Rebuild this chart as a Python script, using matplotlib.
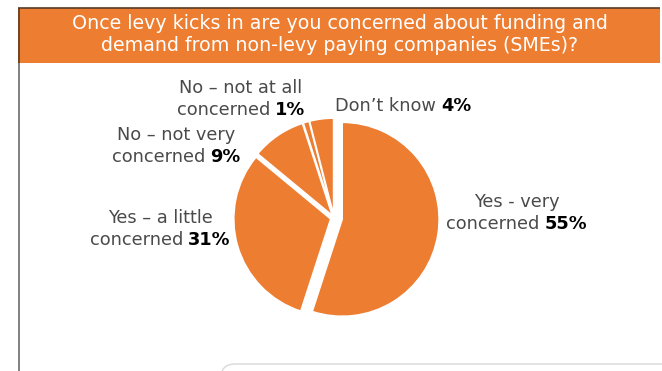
import matplotlib
matplotlib.use("Agg")
import matplotlib.pyplot as plt
from matplotlib.patches import Rectangle, FancyBboxPatch

# Survey answers, drawn clockwise from 12 o'clock
categories = ["Yes - very concerned", "Yes – a little concerned",
              "No – not very concerned", "No – not at all concerned",
              "Don’t know"]
values = [55, 31, 9, 1, 4]
# Label text: regular lines, the last regular line is followed by the bold percentage
label_lines = [["Yes - very", "concerned"],
               ["Yes – a little", "concerned"],
               ["No – not very", "concerned"],
               ["No – not at all", "concerned"],
               ["Don’t know"]]
pct_labels = [f"{v}%" for v in values]

title = ("Once levy kicks in are you concerned about funding and\n"
         "demand from non-levy paying companies (SMEs)?")

ORANGE = "#ED7D31"
TEXT_GREY = "#4a4a4a"
FONT = "DejaVu Sans"

W, H = 662, 371
fig = plt.figure(figsize=(W / 100, H / 100), dpi=100)
fig.patch.set_facecolor("white")

# --- pie, one data unit = R pixels --------------------------------------
R = 97.0
cx, cy = 334.0, 218.0          # pixel position of the pie centre (from top)
half = 1.25 * R
pie_ax = fig.add_axes([(cx - half) / W, (H - cy - half) / H, 2 * half / W, 2 * half / H])
wedges, _ = pie_ax.pie(values, startangle=90, counterclock=False,
                       colors=[ORANGE] * len(values),
                       explode=[0.085, 0.035, 0.03, 0.03, 0.03],
                       wedgeprops=dict(edgecolor="white", linewidth=1.2))
pie_ax.set_xlim(-1.25, 1.25)
pie_ax.set_ylim(-1.25, 1.25)
pie_ax.set_aspect("auto")
pie_ax.axis("off")

# --- overlay in pixel coordinates for frame and text --------------------
ov = fig.add_axes([0, 0, 1, 1], zorder=5)
ov.set_xlim(0, W)
ov.set_ylim(H, 0)
ov.axis("off")
ov.patch.set_alpha(0)

# header band with dark top/left rule, grey rule running down the left side
ov.add_patch(Rectangle((18, 7.5), 642, 55, facecolor=ORANGE, edgecolor="none"))
ov.plot([18, 660], [7.5, 7.5], color="#5a3c24", lw=1.2, solid_capstyle="butt")
ov.plot([18.5, 18.5], [7.5, 62.5], color="#5a3c24", lw=1.2, solid_capstyle="butt")
ov.plot([18.5, 18.5], [62.5, H], color="#808080", lw=1.4, solid_capstyle="butt")

# light rounded panel peeking in at the bottom
ov.add_patch(FancyBboxPatch((221, 364), 465, 40,
                            boxstyle="round,pad=0,rounding_size=14",
                            facecolor="white", edgecolor="#d9d9d9", lw=1.0))

ov.text(340, 34.5, title, ha="center", va="center", color="white",
        fontsize=13.7, family=FONT, linespacing=1.2)

renderer = fig.canvas.get_renderer()


def text_width(t):
    return t.get_window_extent(renderer=renderer).width


def draw_label(lines, pct, centre_x, first_baseline, size=12.8, spacing=22.0):
    for i, line in enumerate(lines):
        y = first_baseline + i * spacing
        if i < len(lines) - 1:
            ov.text(centre_x, y, line, ha="center", va="baseline",
                    color=TEXT_GREY, fontsize=size, family=FONT)
        else:
            t1 = ov.text(0, y, line, ha="left", va="baseline",
                         color=TEXT_GREY, fontsize=size, family=FONT)
            t2 = ov.text(0, y, pct, ha="left", va="baseline", color="black",
                         fontsize=size, family=FONT, weight="bold")
            gap = size * 0.4
            w1, w2 = text_width(t1), text_width(t2)
            x0 = centre_x - (w1 + gap + w2) / 2
            t1.set_x(x0)
            t2.set_x(x0 + w1 + gap)


# label anchor points (centre x, first baseline) in pixels
label_pos = [(517, 207), (160, 223), (176, 140), (241, 93), (403, 111)]
for lines, pct, (lx, ly) in zip(label_lines, pct_labels, label_pos):
    draw_label(lines, pct, lx, ly)

fig.savefig("out.png", dpi=100, facecolor="white")
